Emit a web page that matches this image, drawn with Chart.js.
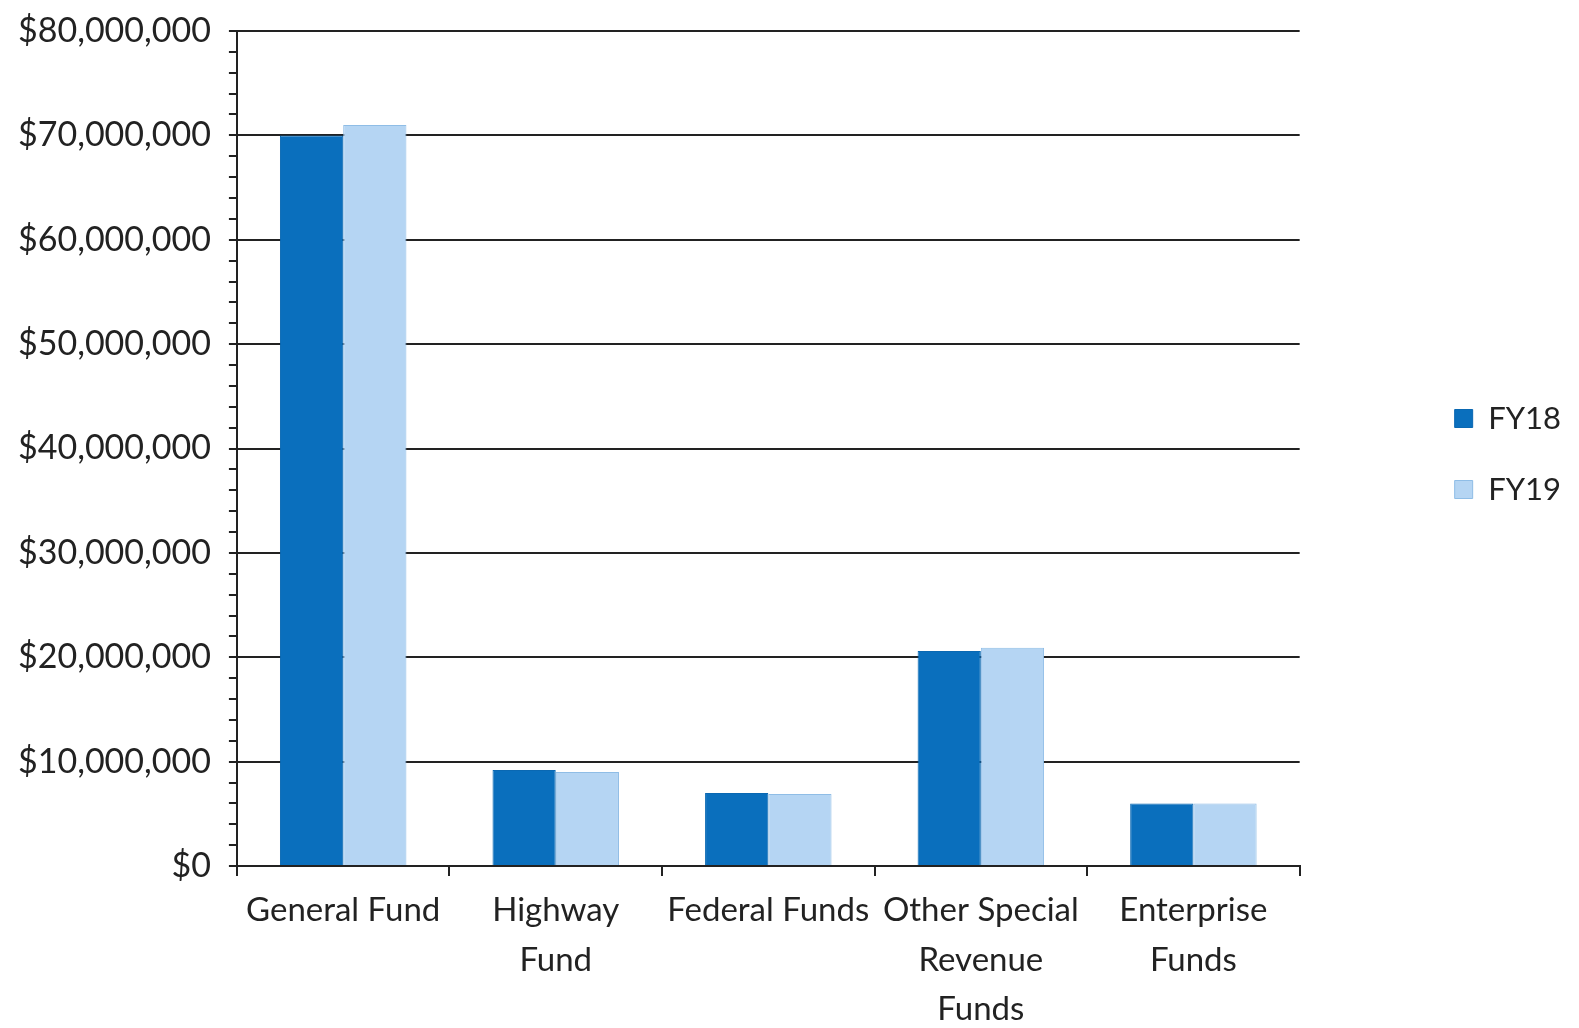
<!DOCTYPE html>
<html>
<head>
<meta charset="utf-8">
<script src="https://cdn.jsdelivr.net/npm/chart.js@4.4.0/dist/chart.umd.min.js"></script>
<style>
  html, body { margin: 0; padding: 0; background: #fff; }
  #wrap { width: 1579px; height: 1028px; }
</style>
</head>
<body>
<div id="wrap"><canvas id="myChart"></canvas></div>
<script>
// categories (multi-line labels as on the original)
let funds = [
	["General Fund"],
	["Highway", "Fund"],
	["Federal Funds"],
	["Other Special", "Revenue", "Funds"],
	["Enterprise", "Funds"]
];
let fy18 = [70000000, 9200000, 7000000, 20600000, 6000000];
let fy19 = [71000000, 9000000, 6900000, 20900000, 6000000];
let yMax = 80000000;
let majorStep = 10000000;
let minorStep = 2000000;

Chart.defaults.font.family = "Lato, 'Open Sans', sans-serif";
Chart.defaults.color = "#222";

let money = function (v) {
	return "$" + Number(v).toLocaleString("en-US");
};

var ctx = document.getElementById("myChart");
var chart = new Chart(ctx, {
	type: "bar",
	data: {
		labels: funds,
		datasets: [
			{
				label: "FY18",
				backgroundColor: "#0a6fbd",
				borderColor: "#0a68b2",
				borderWidth: 1,
				data: fy18
			},
			{
				label: "FY19",
				backgroundColor: "#b5d5f3",
				borderColor: "#8fbde6",
				borderWidth: 1,
				data: fy19
			}
		]
	},
	options: {
		responsive: true,
		maintainAspectRatio: false,
		animation: false,
		layout: { padding: { left: 0, top: 31, right: 8, bottom: 0 } },
		datasets: {
			bar: { categoryPercentage: 0.595, barPercentage: 1.0 }
		},
		scales: {
			x: {
				grid: {
					offset: true,
					drawOnChartArea: false,
					color: "#222",
					lineWidth: 2,
					tickLength: 10
				},
				border: { color: "#222", width: 2 },
				ticks: {
					font: { size: 33, lineHeight: 1.5 },
					maxRotation: 0,
					autoSkip: false,
					padding: 10
				},
				// labels are allowed to run to the bottom edge, as in the scan
				afterFit: function (scale) {
					scale.height = 162;
				}
			},
			y: {
				min: 0,
				max: yMax,
				grid: {
					color: function (c) {
						return c.tick && c.tick.value % majorStep === 0 ? "#222" : "rgba(0,0,0,0)";
					},
					tickColor: "#222",
					lineWidth: 2,
					tickLength: 8
				},
				border: { color: "#222", width: 2 },
				ticks: {
					stepSize: minorStep,
					autoSkip: false,
					font: { size: 34, lineHeight: 0.7 },
					padding: 18,
					callback: function (v) {
						return v % majorStep === 0 ? money(v) : "";
					}
				}
			},
			gap: {
				position: "right",
				display: true,
				grid: { display: false },
				border: { display: false },
				ticks: { display: false },
				afterFit: function (scale) {
					scale.width = 115;
				}
			}
		},
		plugins: {
			legend: {
				position: "right",
				align: "start",
				title: {
					display: true,
					text: " ",
					font: { size: 10 },
					padding: { top: 0, bottom: 320 }
				},
				labels: {
					boxWidth: 18,
					boxHeight: 18,
					padding: 40,
					font: { size: 31 }
				}
			},
			tooltip: { enabled: false }
		}
	}
});
</script>
</body>
</html>
